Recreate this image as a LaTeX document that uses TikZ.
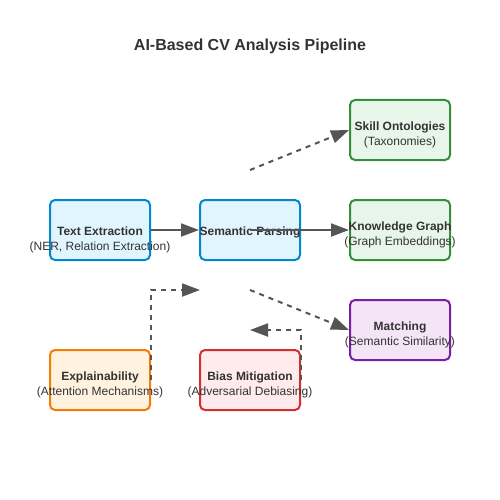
\documentclass[tikz,border=0pt]{standalone}
\usepackage{fontspec}
\setmainfont{Liberation Sans}
\usetikzlibrary{arrows.meta,positioning}
\definecolor{textgray}{HTML}{333333}
\definecolor{arrowgray}{HTML}{555555}
\definecolor{blueline}{HTML}{0288D1}
\definecolor{bluefill}{HTML}{E1F5FE}
\definecolor{greenline}{HTML}{388E3C}
\definecolor{greenfill}{HTML}{E8F5E9}
\definecolor{purpleline}{HTML}{7B1FA2}
\definecolor{purplefill}{HTML}{F3E5F5}
\definecolor{orangeline}{HTML}{F57C00}
\definecolor{orangefill}{HTML}{FFF3E0}
\definecolor{redline}{HTML}{D32F2F}
\definecolor{redfill}{HTML}{FFEBEE}
\begin{document}
\begin{tikzpicture}[x=1pt,y=-1pt,
    box/.style={rectangle,rounded corners=5pt,line width=2pt,minimum width=100pt,minimum height=60pt,inner sep=0pt},
    head/.style={anchor=base,text=textgray,font=\bfseries\fontsize{12}{14}\selectfont},
    sub/.style={anchor=base,text=textgray,font=\fontsize{12}{14}\selectfont},
    flow/.style={draw=arrowgray,line width=2pt,-{Triangle[length=18pt,width=13pt]}},
    hint/.style={flow,dash pattern=on 5pt off 5pt}]
    \useasboundingbox (0,0) rectangle (500,500);

    \node(title)[anchor=base,text=textgray,font=\bfseries\fontsize{16}{19}\selectfont] at (250,51) {AI-Based CV Analysis Pipeline};

    \node(extraction)[box,draw=blueline,fill=bluefill] at (100,230) {};
    \node(parsing)[box,draw=blueline,fill=bluefill] at (250,230) {};
    \node(ontologies)[box,draw=greenline,fill=greenfill] at (400,130) {};
    \node(graph)[box,draw=greenline,fill=greenfill] at (400,230) {};
    \node(matching)[box,draw=purpleline,fill=purplefill] at (400,330) {};
    \node(explain)[box,draw=orangeline,fill=orangefill] at (100,380) {};
    \node(bias)[box,draw=redline,fill=redfill] at (250,380) {};

    \node[head] at (100,235) {Text Extraction};
    \node[sub] at (100,250) {(NER, Relation Extraction)};
    \node[head] at (250,235) {Semantic Parsing};
    \node[head] at (400,130) {Skill Ontologies};
    \node[sub] at (400,145) {(Taxonomies)};
    \node[head] at (400,230) {Knowledge Graph};
    \node[sub] at (400,245) {(Graph Embeddings)};
    \node[head] at (400,330) {Matching};
    \node[sub] at (400,345) {(Semantic Similarity)};
    \node[head] at (100,380) {Explainability};
    \node[sub] at (100,395) {(Attention Mechanisms)};
    \node[head] at (250,380) {Bias Mitigation};
    \node[sub] at (250,395) {(Adversarial Debiasing)};

    \coordinate(parsingup) at (250,170);
    \coordinate(parsingdown) at (250,290);
    \coordinate(explainin) at (200,290);
    \coordinate(biasin) at (250,330);

    \draw[flow] (extraction.east) -- (parsing.west);
    \draw[flow] (parsing.center) -- (graph.west);
    \draw[hint] (parsingup) -- (ontologies.west);
    \draw[hint] (parsingdown) -- (matching.west);
    \draw[hint] (explain.east) |- (explainin);
    \draw[hint] (bias.east) |- (biasin);
    % \draw[hint] (bias.north) -- (parsing.south);
\end{tikzpicture}
\end{document}
